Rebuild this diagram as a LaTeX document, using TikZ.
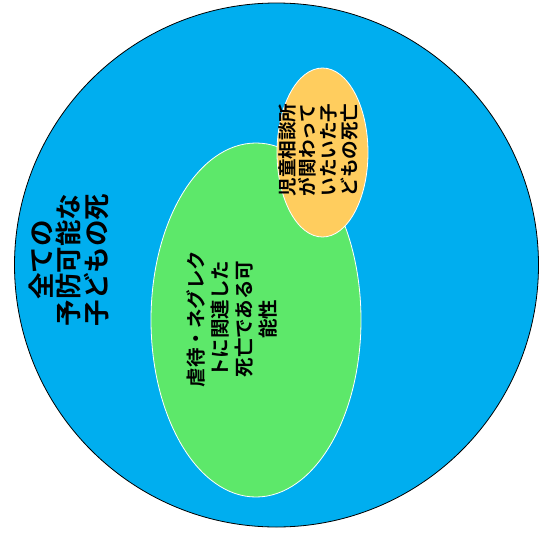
\documentclass[tikz,border=0pt]{standalone}
\usepackage{fontspec}
\newfontfamily\jp{Noto Sans CJK JP}[BoldFont={Noto Sans CJK JP Bold}]
\definecolor{bigblue}{HTML}{00AEEF}
\definecolor{midgreen}{HTML}{5DE86A}
\definecolor{smallorange}{HTML}{FFCD5E}
\tikzset{
  lbl/.style={rotate=90, align=center, inner sep=0pt, font=\jp\bfseries},
}
\begin{document}
\begin{tikzpicture}[x=1pt,y=-1pt]
\useasboundingbox (0,0) rectangle (552,536);
\fill[white] (0,0) rectangle (552,536);
\draw[fill=bigblue, draw=black, line width=0.8pt] (276.5,265) circle [radius=262];
\draw[fill=midgreen, draw=white, line width=0.8pt] (256,320) ellipse [x radius=105, y radius=177];
\draw[fill=smallorange, draw=white, line width=0.8pt] (322.5,152.5) ellipse [x radius=45.5, y radius=84.5];
\node[lbl, font=\jp\bfseries\fontsize{26.5}{27.5}\selectfont] (all) at (68.5,260) {全ての\\予防可能な\\子どもの死};
\node[lbl, font=\jp\bfseries\fontsize{19.5}{24}\selectfont] (abuse) at (232,319) {虐待・ネグレク\\トに関連した\\死亡である可\\能性};
\node[lbl, font=\jp\bfseries\fontsize{18.6}{20.7}\selectfont] (jido) at (318,150) {児童相談所\\が関わって\\いたいた子\\どもの死亡};
\end{tikzpicture}
\end{document}
